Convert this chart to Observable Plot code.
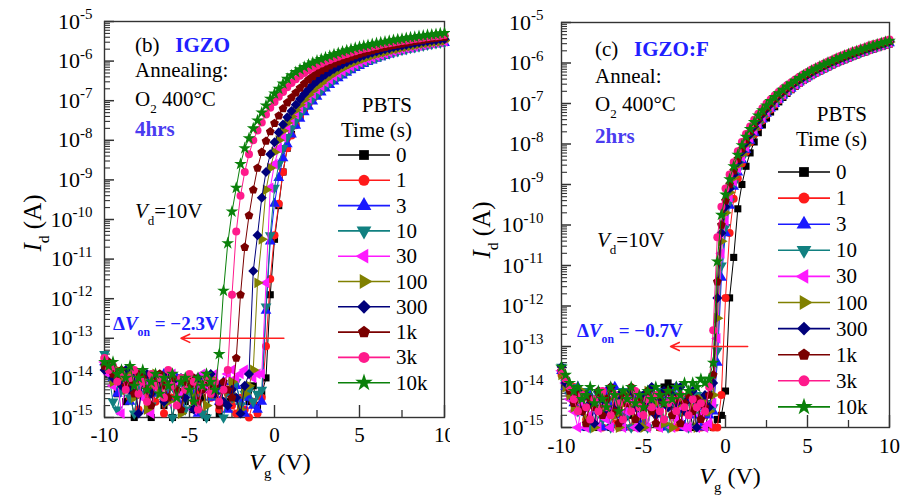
<!DOCTYPE html>
<html>
<head>
<meta charset="utf-8">
<script src="https://cdn.jsdelivr.net/npm/d3@7"></script>
<script src="https://cdn.jsdelivr.net/npm/@observablehq/plot@0.6"></script>
<style>
  html, body { margin: 0; padding: 0; background: #fff; }
  #figure { display: flex; width: 900px; height: 495px; overflow: hidden; }
  #figure svg { display: block; flex: none; }
  #figure text { white-space: pre; }
</style>
</head>
<body>
<div id="figure"></div>
<script>
// Gate sweep: -10 V to +10 V in 0.25 V steps.
// Each curve is stored as log10(Id / A): the off-state part starts at -10 V,
// the turn-on part ends at +10 V.
const sweepStart = -10, sweepEnd = 10, sweepStep = 0.25;

const pbtsLabels = ["0", "1", "3", "10", "30", "100", "300", "1k", "3k", "10k"];
const xMajorTicks = [-10, -5, 0, 5, 10];
const xMinorTicks = [-7.5, -2.5, 2.5, 7.5];
const yDecades = [1e-15, 1e-14, 1e-13, 1e-12, 1e-11, 1e-10, 1e-9, 1e-8, 1e-7, 1e-6, 1e-5];

// ---------- (b) IGZO, O2 400°C 4 hrs ----------
const igzoOff0 = [-13.6, -13.9, -13.9, -14.4, -14.1, -14.6, -14.3, -15.0, -14.2, -14.0, -14.5, -15.0, -14.3, -14.1, -14.7, -14.2, -15.0, -14.4, -14.0, -14.6, -14.3, -14.8, -14.1, -14.5, -15.0, -14.2, -14.4, -14.9, -14.3, -14.6, -14.1, -14.5, -14.8, -14.3, -14.6, -14.2, -14.7, -14.4];
const igzoOn0 = [-14.0, -11.9, -10.5, -9.65, -8.8, -8.2, -7.85, -7.58, -7.37, -7.19, -7.04, -6.92, -6.81, -6.71, -6.61, -6.52, -6.43, -6.35, -6.28, -6.21, -6.15, -6.09, -6.04, -5.99, -5.95, -5.91, -5.87, -5.83, -5.8, -5.77, -5.74, -5.71, -5.68, -5.66, -5.63, -5.61, -5.59, -5.57, -5.55, -5.53, -5.51, -5.5, -5.49];
const igzoOff1 = [-13.5, -13.8, -14.1, -13.9, -14.3, -14.0, -14.5, -14.2, -14.8, -14.1, -14.4, -14.0, -14.6, -14.3, -14.9, -14.2, -14.5, -14.1, -14.7, -14.3, -14.0, -14.6, -14.4, -14.9, -14.2, -14.5, -14.3, -14.8, -14.6, -14.4, -14.7, -14.9, -14.5, -14.8, -15.0, -14.6, -14.9];
const igzoOn1 = [-14.5, -13.2, -11.5, -10.4, -9.6, -8.8, -8.2, -7.88, -7.62, -7.41, -7.22, -7.07, -6.95, -6.84, -6.73, -6.63, -6.54, -6.45, -6.37, -6.3, -6.23, -6.17, -6.11, -6.05, -6.0, -5.96, -5.92, -5.88, -5.84, -5.81, -5.78, -5.75, -5.72, -5.69, -5.67, -5.64, -5.62, -5.6, -5.58, -5.56, -5.54, -5.52, -5.51, -5.49];
const igzoOff3 = [-13.6, -13.8, -14.0, -14.4, -14.2, -13.9, -14.6, -14.1, -14.3, -14.0, -14.8, -14.2, -14.4, -14.1, -13.9, -14.5, -14.2, -14.0, -14.7, -14.3, -14.1, -14.4, -14.9, -14.2, -14.0, -14.5, -14.3, -14.6, -14.1, -14.8, -14.4, -14.2, -14.6, -14.9, -14.5, -14.7, -14.8];
const igzoOn3 = [-14.6, -12.3, -10.55, -9.6, -8.95, -8.45, -8.1, -7.85, -7.63, -7.45, -7.29, -7.15, -7.02, -6.9, -6.79, -6.69, -6.6, -6.51, -6.43, -6.36, -6.29, -6.23, -6.17, -6.12, -6.07, -6.02, -5.98, -5.94, -5.9, -5.87, -5.83, -5.8, -5.77, -5.75, -5.72, -5.7, -5.67, -5.65, -5.63, -5.61, -5.59, -5.57, -5.56, -5.54];
const igzoOff10 = [-13.4, -13.9, -14.6, -14.8, -14.3, -14.0, -14.5, -14.9, -14.2, -14.4, -14.1, -14.7, -14.3, -14.0, -14.6, -14.2, -15.0, -14.4, -14.1, -14.8, -14.3, -14.5, -14.0, -14.9, -15.0, -14.4, -14.2, -14.6, -15.0, -14.3, -14.5, -14.1, -14.7, -14.4, -14.3, -14.6, -14.4];
const igzoOn10 = [-14.3, -12.2, -10.4, -9.2, -8.6, -8.2, -7.92, -7.7, -7.5, -7.34, -7.19, -7.06, -6.94, -6.83, -6.73, -6.63, -6.54, -6.46, -6.38, -6.31, -6.25, -6.19, -6.13, -6.08, -6.03, -5.99, -5.95, -5.91, -5.87, -5.84, -5.81, -5.78, -5.75, -5.72, -5.7, -5.67, -5.65, -5.63, -5.61, -5.59, -5.57, -5.55, -5.54, -5.52];
const igzoOff30 = [-13.6, -13.9, -14.2, -14.0, -14.9, -14.1, -13.8, -14.3, -14.0, -14.5, -14.2, -14.9, -14.0, -14.3, -14.1, -14.6, -13.9, -14.2, -14.4, -14.0, -14.2, -14.8, -14.1, -13.9, -14.3, -14.0, -13.9, -14.2, -14.1, -13.9, -13.8, -14.0, -13.9, -13.8, -13.9, -14.0, -13.9];
const igzoOn30 = [-13.9, -11.6, -9.2, -8.6, -8.2, -7.92, -7.7, -7.5, -7.34, -7.19, -7.06, -6.94, -6.83, -6.72, -6.63, -6.54, -6.46, -6.38, -6.31, -6.25, -6.19, -6.13, -6.08, -6.03, -5.99, -5.95, -5.91, -5.87, -5.84, -5.81, -5.78, -5.75, -5.72, -5.7, -5.67, -5.65, -5.63, -5.61, -5.59, -5.57, -5.55, -5.53, -5.52, -5.5];
const igzoOff100 = [-13.7, -13.7, -14.1, -13.8, -14.0, -14.3, -13.9, -14.5, -14.1, -14.0, -14.8, -14.2, -13.9, -14.4, -14.1, -14.6, -14.0, -14.3, -14.9, -14.2, -14.0, -14.5, -14.1, -14.3, -14.7, -14.0, -14.4, -14.2, -14.6, -14.3, -14.1, -14.5, -14.8, -14.4, -14.2];
const igzoOn100 = [-13.8, -11.6, -10.5, -9.25, -8.7, -8.3, -8.0, -7.76, -7.56, -7.4, -7.24, -7.1, -6.97, -6.85, -6.74, -6.64, -6.55, -6.46, -6.38, -6.31, -6.24, -6.18, -6.12, -6.07, -6.02, -5.98, -5.94, -5.9, -5.86, -5.83, -5.8, -5.77, -5.74, -5.71, -5.69, -5.66, -5.64, -5.62, -5.6, -5.58, -5.56, -5.54, -5.53, -5.51, -5.5, -5.48];
const igzoOff300 = [-13.8, -13.6, -14.0, -13.9, -14.2, -13.8, -14.3, -14.0, -14.9, -14.1, -13.9, -14.4, -14.0, -14.2, -14.6, -13.9, -14.1, -14.3, -14.0, -14.5, -14.2, -14.8, -14.0, -14.3, -14.1, -13.9, -14.4, -14.2, -14.6, -14.7, -14.3, -14.5, -14.9, -14.2];
const igzoOn300 = [-13.9, -11.3, -10.4, -9.45, -8.8, -8.35, -8.05, -7.8, -7.6, -7.42, -7.26, -7.1, -6.96, -6.83, -6.71, -6.6, -6.5, -6.42, -6.34, -6.27, -6.2, -6.14, -6.08, -6.03, -5.98, -5.94, -5.9, -5.86, -5.82, -5.79, -5.76, -5.73, -5.7, -5.68, -5.65, -5.63, -5.61, -5.59, -5.57, -5.55, -5.53, -5.51, -5.5, -5.48, -5.47, -5.45, -5.44];
const igzoOff1k = [-13.7, -13.6, -13.9, -14.0, -13.8, -14.2, -14.1, -14.4, -13.9, -14.0, -14.3, -14.7, -14.1, -13.9, -14.2, -14.5, -14.0, -14.3, -14.8, -14.1, -14.2, -14.0, -14.6, -14.3, -14.1, -14.4, -14.2, -14.7, -14.1, -14.3, -14.5];
const igzoOn1k = [-13.5, -11.9, -10.7, -9.9, -9.25, -8.7, -8.3, -8.02, -7.78, -7.57, -7.38, -7.2, -7.05, -6.92, -6.8, -6.68, -6.57, -6.47, -6.39, -6.31, -6.24, -6.18, -6.12, -6.07, -6.02, -5.98, -5.94, -5.9, -5.86, -5.82, -5.79, -5.76, -5.73, -5.7, -5.67, -5.65, -5.62, -5.6, -5.58, -5.56, -5.54, -5.52, -5.5, -5.48, -5.47, -5.45, -5.43, -5.42, -5.4, -5.39];
const igzoOff3k = [-13.5, -13.8, -13.7, -14.1, -13.9, -14.3, -14.0, -13.8, -14.4, -14.1, -14.6, -13.9, -14.2, -14.0, -14.5, -13.8, -14.2, -14.7, -14.0, -14.3, -13.9, -14.1, -14.8, -14.2, -14.0, -14.4, -14.1, -14.6, -14.3];
const igzoOn3k = [-13.8, -11.9, -10.3, -9.4, -8.8, -8.35, -8.0, -7.75, -7.55, -7.35, -7.18, -7.03, -6.9, -6.78, -6.66, -6.55, -6.46, -6.37, -6.3, -6.23, -6.17, -6.11, -6.06, -6.01, -5.97, -5.93, -5.89, -5.85, -5.82, -5.78, -5.75, -5.72, -5.69, -5.67, -5.64, -5.62, -5.59, -5.57, -5.55, -5.53, -5.51, -5.49, -5.48, -5.46, -5.44, -5.43, -5.41, -5.4, -5.38, -5.37, -5.36, -5.34];
const igzoOff10k = [-13.6, -13.7, -13.6, -13.9, -13.8, -14.0, -13.7, -14.2, -14.0, -13.8, -14.3, -14.1, -13.9, -14.4, -14.0, -14.2, -13.9, -14.5, -14.1, -14.0, -14.3, -14.6, -14.0, -14.2, -13.9, -14.1, -14.3];
const igzoOn10k = [-13.4, -11.8, -10.6, -9.8, -9.2, -8.6, -8.2, -7.95, -7.7, -7.5, -7.3, -7.12, -6.95, -6.82, -6.7, -6.57, -6.45, -6.36, -6.28, -6.21, -6.15, -6.09, -6.04, -5.99, -5.95, -5.91, -5.87, -5.83, -5.8, -5.76, -5.73, -5.7, -5.67, -5.64, -5.62, -5.6, -5.57, -5.55, -5.53, -5.51, -5.49, -5.47, -5.45, -5.44, -5.42, -5.4, -5.39, -5.37, -5.36, -5.34, -5.33, -5.32, -5.3, -5.29];

// ---------- (c) IGZO:F, O2 400°C 2 hrs ----------
const igzofOff0 = [-13.6, -13.9, -14.1, -14.3, -14.2, -14.6, -15.0, -14.4, -14.3, -15.0, -14.5, -14.2, -15.0, -14.6, -14.4, -15.0, -14.3, -14.7, -15.0, -14.5, -14.2, -15.0, -14.4, -14.6, -15.0, -14.0, -13.9, -14.0, -14.3, -15.0, -14.5, -14.3, -15.0, -14.4, -14.7, -15.0, -14.6, -15.0, -14.8, -14.7];
const igzofOn0 = [-14.1, -11.8, -10.8, -9.6, -9.0, -8.55, -8.22, -7.95, -7.72, -7.53, -7.36, -7.21, -7.08, -6.96, -6.85, -6.75, -6.66, -6.58, -6.5, -6.43, -6.37, -6.31, -6.25, -6.2, -6.15, -6.1, -6.05, -6.0, -5.96, -5.92, -5.88, -5.84, -5.8, -5.76, -5.73, -5.69, -5.66, -5.62, -5.59, -5.56, -5.53];
const igzofOff1 = [-13.7, -13.8, -14.2, -14.0, -14.5, -14.3, -14.8, -15.0, -14.4, -14.6, -15.0, -14.3, -14.5, -14.9, -15.0, -14.4, -14.6, -15.0, -14.2, -14.5, -14.8, -15.0, -14.3, -14.6, -15.0, -14.4, -14.2, -14.7, -15.0, -14.5, -14.3, -15.0, -14.6, -14.4, -15.0, -14.7, -14.5, -15.0, -15.0];
const igzofOn1 = [-14.2, -11.8, -10.2, -9.35, -8.85, -8.48, -8.2, -7.96, -7.76, -7.58, -7.42, -7.28, -7.15, -7.03, -6.92, -6.82, -6.73, -6.65, -6.57, -6.5, -6.43, -6.37, -6.31, -6.25, -6.2, -6.15, -6.1, -6.05, -6.0, -5.96, -5.92, -5.88, -5.84, -5.8, -5.76, -5.72, -5.69, -5.65, -5.62, -5.59, -5.56, -5.53];
const igzofOff3 = [-13.6, -14.0, -14.1, -14.4, -14.0, -14.5, -15.0, -14.2, -14.6, -14.3, -15.0, -14.1, -14.5, -14.0, -14.7, -15.0, -14.3, -14.5, -14.2, -14.8, -15.0, -14.4, -14.1, -14.6, -14.3, -15.0, -14.2, -14.5, -14.0, -14.6, -15.0, -14.3, -14.7, -14.4, -15.0, -14.5, -14.7];
const igzofOn3 = [-14.6, -13.4, -11.3, -10.2, -9.52, -9.05, -8.7, -8.4, -8.14, -7.92, -7.72, -7.55, -7.39, -7.25, -7.12, -7.01, -6.9, -6.8, -6.71, -6.63, -6.55, -6.48, -6.41, -6.35, -6.29, -6.23, -6.18, -6.13, -6.08, -6.03, -5.98, -5.94, -5.9, -5.86, -5.82, -5.78, -5.74, -5.7, -5.67, -5.63, -5.6, -5.57, -5.54, -5.51];
const igzofOff10 = [-13.5, -13.9, -14.2, -14.0, -14.6, -14.3, -14.1, -15.0, -14.5, -14.2, -14.8, -14.4, -15.0, -14.3, -14.5, -14.1, -14.7, -15.0, -14.4, -14.2, -14.6, -15.0, -14.3, -14.5, -14.1, -14.8, -15.0, -14.4, -14.2, -14.6, -14.3, -15.0, -14.5, -14.2, -14.7, -14.4, -14.6];
const igzofOn10 = [-14.5, -13.1, -11.0, -10.05, -9.42, -8.98, -8.65, -8.36, -8.1, -7.88, -7.69, -7.52, -7.37, -7.23, -7.1, -6.99, -6.89, -6.79, -6.7, -6.62, -6.54, -6.47, -6.4, -6.34, -6.28, -6.22, -6.17, -6.12, -6.07, -6.02, -5.97, -5.93, -5.89, -5.85, -5.81, -5.77, -5.73, -5.69, -5.66, -5.62, -5.59, -5.56, -5.53, -5.5];
const igzofOff30 = [-13.6, -13.9, -14.3, -14.6, -15.0, -14.4, -15.0, -14.7, -14.5, -15.0, -14.3, -14.8, -15.0, -14.5, -14.2, -15.0, -14.6, -14.4, -15.0, -14.7, -14.3, -15.0, -14.5, -14.6, -15.0, -14.4, -14.2, -15.0, -14.8, -14.5, -15.0, -15.0, -14.6, -15.0, -14.7, -15.0, -14.9];
const igzofOn30 = [-14.4, -12.8, -10.7, -9.9, -9.32, -8.92, -8.6, -8.32, -8.07, -7.85, -7.66, -7.49, -7.34, -7.2, -7.08, -6.97, -6.87, -6.77, -6.68, -6.6, -6.53, -6.46, -6.39, -6.33, -6.27, -6.21, -6.16, -6.11, -6.06, -6.01, -5.97, -5.92, -5.88, -5.84, -5.8, -5.76, -5.72, -5.69, -5.65, -5.62, -5.59, -5.56, -5.52, -5.49];
const igzofOff100 = [-13.7, -14.0, -14.2, -14.5, -14.3, -14.1, -14.8, -14.4, -15.0, -14.2, -14.6, -14.3, -14.1, -14.7, -15.0, -14.4, -14.2, -14.5, -14.8, -14.3, -15.0, -14.1, -14.6, -14.4, -14.2, -14.9, -14.5, -15.0, -14.3, -14.4, -14.6, -14.2, -14.5, -15.0, -14.3, -14.4, -14.6];
const igzofOn100 = [-14.2, -12.3, -10.4, -9.7, -9.2, -8.83, -8.52, -8.25, -8.01, -7.8, -7.61, -7.44, -7.29, -7.16, -7.04, -6.93, -6.83, -6.74, -6.65, -6.57, -6.5, -6.43, -6.37, -6.31, -6.25, -6.19, -6.14, -6.09, -6.04, -5.99, -5.95, -5.9, -5.86, -5.82, -5.78, -5.75, -5.71, -5.67, -5.64, -5.61, -5.57, -5.54, -5.51, -5.48];
const igzofOff300 = [-13.5, -13.9, -14.0, -14.3, -14.1, -14.6, -14.2, -14.4, -14.9, -14.1, -14.3, -14.6, -14.0, -14.5, -14.2, -14.8, -14.3, -14.1, -14.5, -15.0, -14.2, -14.4, -14.0, -14.7, -14.3, -14.1, -14.5, -14.2, -14.4, -14.0, -14.6, -14.3, -14.1, -15.0, -14.4, -14.2, -14.5];
const igzofOn300 = [-13.9, -11.8, -10.2, -9.55, -9.1, -8.75, -8.45, -8.19, -7.96, -7.76, -7.57, -7.41, -7.26, -7.13, -7.01, -6.9, -6.8, -6.71, -6.63, -6.55, -6.48, -6.41, -6.35, -6.29, -6.23, -6.17, -6.12, -6.07, -6.02, -5.97, -5.93, -5.89, -5.85, -5.81, -5.77, -5.73, -5.7, -5.66, -5.63, -5.59, -5.56, -5.53, -5.5, -5.47];
const igzofOff1k = [-13.6, -13.8, -14.1, -14.4, -14.2, -14.6, -14.9, -14.3, -14.5, -14.1, -14.7, -14.3, -14.0, -14.6, -14.9, -14.2, -14.4, -14.0, -14.8, -14.3, -14.5, -14.1, -14.6, -14.9, -14.2, -14.4, -14.1, -14.7, -14.3, -14.9, -14.4, -14.2, -14.6, -14.3, -14.8, -14.5, -14.2];
const igzofOn1k = [-13.7, -11.4, -10.0, -9.4, -9.0, -8.66, -8.37, -8.12, -7.9, -7.7, -7.52, -7.36, -7.22, -7.09, -6.98, -6.88, -6.78, -6.69, -6.61, -6.53, -6.46, -6.39, -6.33, -6.27, -6.21, -6.16, -6.11, -6.06, -6.01, -5.96, -5.92, -5.88, -5.84, -5.8, -5.76, -5.72, -5.69, -5.65, -5.62, -5.58, -5.55, -5.52, -5.49, -5.46];
const igzofOff3k = [-13.6, -13.8, -14.0, -14.3, -14.6, -14.2, -14.5, -14.8, -14.3, -14.6, -14.1, -14.5, -14.7, -14.2, -14.4, -14.8, -14.3, -14.6, -14.1, -14.5, -14.7, -14.3, -14.5, -14.2, -14.6, -14.8, -14.4, -14.3, -14.6, -14.2, -14.5, -14.7, -14.3, -14.5, -14.4, -14.6, -14.0];
const igzofOn3k = [-12.6, -10.3, -9.55, -9.1, -8.75, -8.45, -8.18, -7.95, -7.75, -7.57, -7.4, -7.25, -7.12, -7.0, -6.9, -6.8, -6.71, -6.63, -6.55, -6.48, -6.41, -6.34, -6.28, -6.22, -6.16, -6.11, -6.06, -6.01, -5.96, -5.92, -5.87, -5.83, -5.79, -5.75, -5.71, -5.68, -5.64, -5.61, -5.57, -5.54, -5.51, -5.48, -5.45, -5.42];
const igzofOff10k = [-13.5, -13.7, -13.9, -14.1, -14.0, -14.3, -14.2, -14.0, -14.4, -14.1, -14.3, -14.5, -14.0, -14.2, -14.6, -14.1, -14.3, -14.0, -14.4, -14.2, -14.5, -14.1, -14.3, -14.0, -14.2, -14.4, -14.1, -14.3, -14.0, -14.2, -13.9, -14.1, -13.9, -14.0, -13.8, -13.9, -13.8];
const igzofOn10k = [-13.4, -10.9, -9.75, -9.25, -8.87, -8.55, -8.27, -8.03, -7.82, -7.63, -7.46, -7.3, -7.17, -7.05, -6.94, -6.84, -6.75, -6.66, -6.58, -6.51, -6.44, -6.37, -6.31, -6.25, -6.19, -6.14, -6.09, -6.04, -5.99, -5.95, -5.9, -5.86, -5.82, -5.78, -5.74, -5.71, -5.67, -5.64, -5.6, -5.57, -5.54, -5.51, -5.48, -5.45];

// Red arrows marking the turn-on shift (gate voltage, drain current)
const igzoShift = {from: 0.55, to: -5.5, at: 1e-13};
const igzofShift = {from: 1.35, to: -3.35, at: 1e-13};

// ---------- styling ----------
const seriesColors = ["#000000", "#ff1a1a", "#1a1aff", "#118080", "#ff19ff", "#808000", "#00007a", "#7a0000", "#ff1a8c", "#0a800a"];
const serif = "'Liberation Serif', 'Times New Roman', serif";
const blueText = "#2020ff";

function polygonSymbol(sides, startAngle) {
  return {
    draw(context, size) {
      const R = Math.sqrt(size / (0.5 * sides * Math.sin((2 * Math.PI) / sides)));
      for (let k = 0; k < sides; ++k) {
        const a = startAngle + (k * 2 * Math.PI) / sides;
        const px = R * Math.cos(a), py = R * Math.sin(a);
        if (k) context.lineTo(px, py); else context.moveTo(px, py);
      }
      context.closePath();
    }
  };
}
const seriesSymbols = [
  polygonSymbol(4, Math.PI / 4),   // square
  d3.symbolCircle,                 // circle
  polygonSymbol(3, -Math.PI / 2),  // triangle up
  polygonSymbol(3, Math.PI / 2),   // triangle down
  polygonSymbol(3, Math.PI),       // triangle left
  polygonSymbol(3, 0),             // triangle right
  polygonSymbol(4, -Math.PI / 2),  // diamond
  polygonSymbol(5, -Math.PI / 2),  // pentagon
  d3.symbolCircle,                 // circle
  d3.symbolStar                    // star
];

const yMinorTicks = [];
for (let e = -15; e < -5; ++e) for (let m = 2; m <= 9; ++m) yMinorTicks.push(m * 10 ** e);

function buildSeries(off, on) {
  const pts = [];
  off.forEach((v, i) => pts.push({vg: sweepStart + i * sweepStep, id: 10 ** v}));
  on.forEach((v, j) => pts.push({vg: sweepEnd - (on.length - 1 - j) * sweepStep, id: 10 ** v}));
  return pts;
}

// Text with italic / subscript runs
function richText(parent, x, y, parts, {size = 21, anchor = "start", fill = "#000", weight = null, rotate = null} = {}) {
  const t = parent.append("text")
    .attr("font-size", size).attr("fill", fill).attr("text-anchor", anchor)
    .attr("font-family", serif);
  if (weight) t.attr("font-weight", weight);
  if (rotate != null) t.attr("transform", `translate(${x},${y}) rotate(${rotate})`);
  else t.attr("x", x).attr("y", y);
  let shift = 0;
  for (const p of parts) {
    const s = typeof p === "string" ? {t: p} : p;
    const target = s.sub ? size * 0.32 : 0;
    const ts = t.append("tspan").text(s.t);
    if (target !== shift) { ts.attr("dy", target - shift); shift = target; }
    if (s.sub) ts.attr("font-size", size * 0.62);
    if (s.italic) ts.attr("font-style", "italic");
    if (s.bold) ts.attr("font-weight", "bold");
    if (s.fill) ts.attr("fill", s.fill);
  }
  return t;
}

function makePanel(p) {
  const innerW = p.width - p.marginLeft - p.marginRight;
  const innerH = p.height - p.marginTop - p.marginBottom;
  const tickStroke = "#333";
  const marks = [
    Plot.frame({stroke: tickStroke, strokeWidth: 1.4}),
    Plot.tickY(yMinorTicks, {y: (d) => d, insetRight: innerW - 6, stroke: tickStroke, strokeWidth: 1.1}),
    Plot.tickY(yDecades, {y: (d) => d, insetRight: innerW - 10, stroke: tickStroke, strokeWidth: 1.5}),
    Plot.tickX(xMinorTicks, {x: (d) => d, insetTop: innerH - 7, stroke: tickStroke, strokeWidth: 1.3}),
    Plot.tickX(xMajorTicks, {x: (d) => d, insetTop: innerH - 12, stroke: tickStroke, strokeWidth: 1.4}),
    Plot.axisY({ticks: yDecades, tickSize: 0, tickPadding: p.yPad, fontSize: 22, fill: "#000",
      tickFormat: (d) => `10^${Math.round(Math.log10(d))}`}),
    Plot.axisX({ticks: xMajorTicks, tickSize: 0, tickPadding: p.xPad, fontSize: 21, fill: "#000",
      tickFormat: (d) => String(d)})
  ];
  p.curves.forEach(([off, on], k) => {
    const pts = buildSeries(off, on);
    marks.push(Plot.line(pts, {x: "vg", y: "id", stroke: seriesColors[k], strokeWidth: 1}));
    marks.push(Plot.dot(pts, {x: "vg", y: "id", r: 4, fill: seriesColors[k], symbol: seriesSymbols[k]}));
  });
  marks.push(Plot.arrow([p.shift], {x1: "from", x2: "to", y1: "at", y2: "at",
    stroke: "#ff2020", strokeWidth: 1.6, headLength: 9, headAngle: 50}));

  const svg = Plot.plot({
    width: p.width, height: p.height,
    marginLeft: p.marginLeft, marginRight: p.marginRight, marginTop: p.marginTop, marginBottom: p.marginBottom,
    x: {domain: [-10, 10]},
    y: {type: "log", domain: [1e-15, 1e-5]},
    style: {fontFamily: serif, color: "#000", background: "#fff", overflow: "visible"},
    marks
  });

  const root = d3.select(svg);
  // superscript exponents on the decade labels
  root.selectAll('[aria-label="y-axis tick label"] text').each(function () {
    const [base, exp] = this.textContent.split("^");
    const t = d3.select(this).text(null);
    t.append("tspan").text(base);
    t.append("tspan").attr("dy", "-0.62em").attr("font-size", "0.68em").text(exp);
  });

  const g = root.append("g");
  const a = p.notes;
  richText(g, a.x, a.titleY, ["(" + p.letter + ")   ", {t: p.material, bold: true, fill: blueText}]);
  richText(g, a.x, a.annealY, [p.annealWord]);
  richText(g, a.x, a.gasY, ["O", {t: "2", sub: true}, " 400°C"]);
  richText(g, a.x, a.timeY, [p.annealTime], {fill: "#4a3cf0", weight: "bold"});
  richText(g, a.vdX, a.vdY, [{t: "V", italic: true}, {t: "d", sub: true}, "=10V"]);
  richText(g, a.shiftX, a.shiftY, ["Δ", {t: "V", italic: true}, {t: "on", sub: true}, " = −" + p.shiftText + "V"],
    {fill: blueText, size: 19, weight: "bold"});

  // legend
  const L = p.legend;
  richText(g, L.right, L.headY, ["PBTS"], {anchor: "end"});
  richText(g, L.right, L.headY + 25, ["Time (s)"], {anchor: "end"});
  pbtsLabels.forEach((lab, k) => {
    const y = L.y0 + k * L.step;
    g.append("line").attr("x1", L.x1).attr("x2", L.x2).attr("y1", y).attr("y2", y)
      .attr("stroke", seriesColors[k]).attr("stroke-width", 1.6);
    g.append("path").attr("d", d3.symbol(seriesSymbols[k], 95)())
      .attr("transform", `translate(${(L.x1 + L.x2) / 2},${y})`).attr("fill", seriesColors[k]);
    richText(g, L.x2 + 6, y + 7, [lab]);
  });

  // axis titles
  richText(g, p.xTitle[0], p.xTitle[1], [{t: "V", italic: true}, {t: "g", sub: true}, " (V)"], {size: 24, anchor: "middle"});
  richText(g, p.yTitle[0], p.yTitle[1], [{t: "I", italic: true}, {t: "d", sub: true}, " (A)"], {size: 25, anchor: "middle", rotate: -90});
  return svg;
}

const figure = document.getElementById("figure");

figure.append(makePanel({
  width: 450, height: 495, marginLeft: 104, marginRight: 6, marginTop: 21, marginBottom: 78,
  yPad: 12, xPad: 10,
  letter: "b", material: "IGZO", annealWord: "Annealing:", annealTime: "4hrs", shiftText: "2.3",
  curves: [[igzoOff0, igzoOn0], [igzoOff1, igzoOn1], [igzoOff3, igzoOn3], [igzoOff10, igzoOn10],
    [igzoOff30, igzoOn30], [igzoOff100, igzoOn100], [igzoOff300, igzoOn300], [igzoOff1k, igzoOn1k],
    [igzoOff3k, igzoOn3k], [igzoOff10k, igzoOn10k]],
  shift: igzoShift,
  notes: {x: 135, titleY: 52, annealY: 77, gasY: 106, timeY: 136, vdX: 135, vdY: 218, shiftX: 113, shiftY: 330},
  legend: {right: 412, headY: 112, x1: 338, x2: 390, y0: 155, step: 25.3},
  xTitle: [280, 470], yTitle: [41, 223]
}));

figure.append(makePanel({
  width: 450, height: 495, marginLeft: 111, marginRight: 11, marginTop: 22, marginBottom: 68,
  yPad: 18, xPad: 11,
  letter: "c", material: "IGZO:F", annealWord: "Anneal:", annealTime: "2hrs", shiftText: "0.7",
  curves: [[igzofOff0, igzofOn0], [igzofOff1, igzofOn1], [igzofOff3, igzofOn3], [igzofOff10, igzofOn10],
    [igzofOff30, igzofOn30], [igzofOff100, igzofOn100], [igzofOff300, igzofOn300], [igzofOff1k, igzofOn1k],
    [igzofOff3k, igzofOn3k], [igzofOff10k, igzofOn10k]],
  shift: igzofShift,
  notes: {x: 145, titleY: 56, annealY: 83, gasY: 111, timeY: 143, vdX: 147, vdY: 247, shiftX: 127, shiftY: 337},
  legend: {right: 417, headY: 121, x1: 328, x2: 380, y0: 172, step: 26.1},
  xTitle: [280, 484], yTitle: [40, 230]
}));
</script>
</body>
</html>
